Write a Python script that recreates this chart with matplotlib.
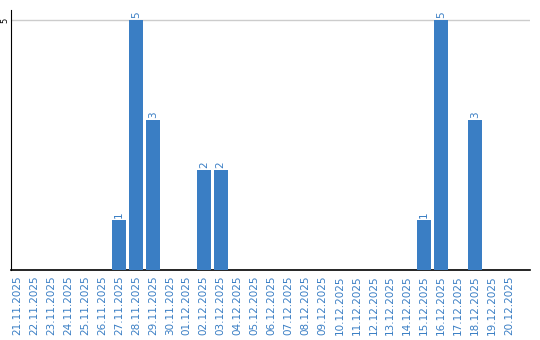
import matplotlib
matplotlib.use("Agg")
import matplotlib.pyplot as plt

dates = ["21.11.2025", "22.11.2025", "23.11.2025", "24.11.2025", "25.11.2025",
         "26.11.2025", "27.11.2025", "28.11.2025", "29.11.2025", "30.11.2025",
         "01.12.2025", "02.12.2025", "03.12.2025", "04.12.2025", "05.12.2025",
         "06.12.2025", "07.12.2025", "08.12.2025", "09.12.2025", "10.12.2025",
         "11.12.2025", "12.12.2025", "13.12.2025", "14.12.2025", "15.12.2025",
         "16.12.2025", "17.12.2025", "18.12.2025", "19.12.2025", "20.12.2025"]
values = [0, 0, 0, 0, 0, 0, 1, 5, 3, 0,
          0, 2, 2, 0, 0, 0, 0, 0, 0, 0,
          0, 0, 0, 0, 1, 5, 0, 3, 0, 0]
y_ticks = [5]

blue = "#3a7ec4"
fig = plt.figure(figsize=(5.4, 3.4), dpi=100)
ax = fig.add_axes([11/540, 1-270/340, (530-11)/540, 260/340])
x = list(range(len(dates)))
ax.bar(x, values, width=0.82, color=blue, zorder=3)
for xi, v in zip(x, values):
    if v > 0:
        ax.text(xi, v + 0.05, str(v), rotation=90, ha="center", va="bottom",
                color=blue, fontsize=7.5)
ax.set_xlim(-0.37, 30.24)
ax.set_ylim(0, 5.2)
ax.set_yticks(y_ticks)
ax.set_yticklabels([""] * len(y_ticks))
for t in y_ticks:
    ax.text(-6.0 / 519, t, str(t), transform=ax.get_yaxis_transform(),
            rotation=90, ha="center", va="center", fontsize=6, color="black")
ax.yaxis.grid(True, color="#cccccc", linewidth=1, zorder=0)
ax.tick_params(axis="y", length=0)
ax.set_xticks(x)
ax.set_xticklabels(dates, rotation=90, fontsize=7.5, color=blue)
ax.tick_params(axis="x", length=0, pad=4)
for s in ["top", "right"]:
    ax.spines[s].set_visible(False)
ax.spines["left"].set_color("black")
ax.spines["bottom"].set_color("black")
ax.spines["bottom"].set_linewidth(1.2)
fig.savefig("out.png", dpi=100)
